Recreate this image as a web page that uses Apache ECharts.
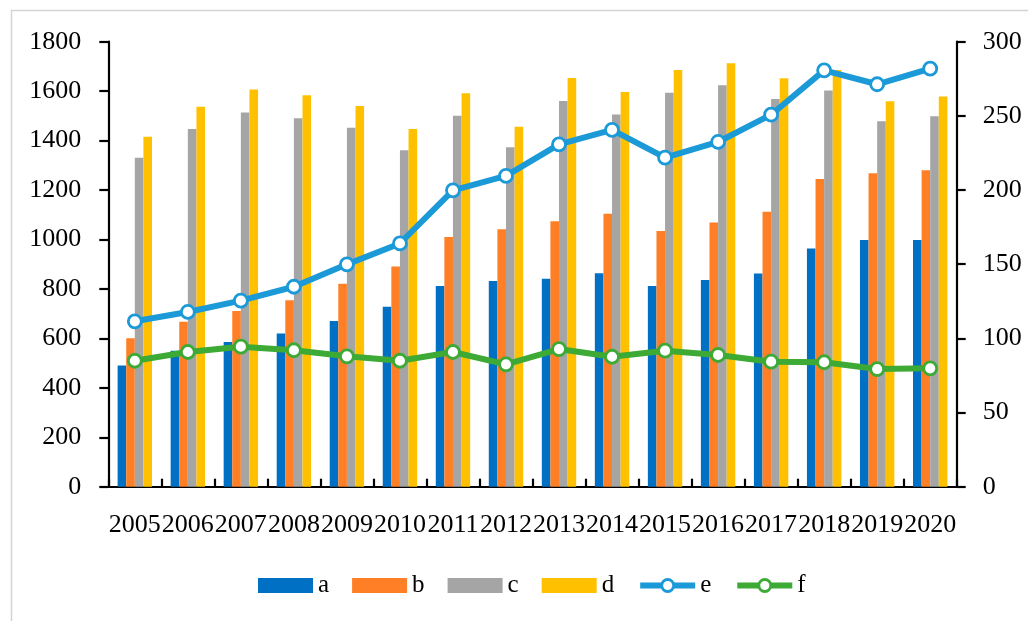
<!DOCTYPE html>
<html>
<head>
<meta charset="utf-8">
<script src="https://cdn.jsdelivr.net/npm/echarts@6/dist/echarts.min.js"></script>
<style>
  html, body { margin: 0; padding: 0; background: #fff; }
  #chart { width: 1028px; height: 621px; }
</style>
</head>
<body>
<div id="chart"></div>
<script>
// Years on the category axis
const years = ['2005','2006','2007','2008','2009','2010','2011','2012',
               '2013','2014','2015','2016','2017','2018','2019','2020'];

// Bar series (left axis)
const seriesA = [490, 550, 585, 620, 670, 728, 812, 832, 841, 863, 812, 836, 862, 964, 998, 998];
const seriesB = [600, 667, 711, 754, 821, 891, 1010, 1041, 1074, 1104, 1034, 1069, 1112, 1245, 1268, 1280];
const seriesC = [1331, 1447, 1514, 1490, 1452, 1361, 1500, 1373, 1560, 1506, 1594, 1624, 1568, 1603, 1478, 1498];
const seriesD = [1416, 1537, 1607, 1583, 1540, 1447, 1591, 1456, 1653, 1597, 1686, 1713, 1652, 1686, 1559, 1578];

// Line series (right axis)
const seriesE = [111.5, 117.8, 125.4, 134.8, 149.9, 164, 199.8, 209.5, 230.8, 240.5, 221.8, 232.4, 250.8, 280.7, 271.3, 281.8];
const seriesF = [84.9, 90.8, 94.4, 92, 87.9, 84.9, 90.8, 82.5, 92.8, 87.6, 91.7, 88.8, 84.3, 83.9, 79.3, 79.8];

// Axis tick settings
const leftAxis = { min: 0, max: 1800, interval: 200 };
const rightAxis = { min: 0, max: 300, interval: 50 };

const FONT = '"Liberation Serif", "DejaVu Serif", serif';
const AXIS_COLOR = '#000';
const COLORS = {
  a: '#0070C4', b: '#FF7F26', c: '#A5A5A5', d: '#FFC000',
  e: '#1B9AD7', f: '#3CAA34'
};
const LINE_WIDTH = 6;

const chart = echarts.init(document.getElementById('chart'), null, { renderer: 'canvas' });

function barSeries(name, data, color) {
  return {
    name, type: 'bar', data,
    yAxisIndex: 0,
    barWidth: 8.6,
    barGap: '0%',
    itemStyle: { color },
    emphasis: { disabled: true }
  };
}

function lineSeries(name, data, color) {
  return {
    name, type: 'line', data,
    yAxisIndex: 1,
    symbol: 'circle',
    symbolSize: 13,
    lineStyle: { color, width: LINE_WIDTH },
    itemStyle: { color: '#fff', borderColor: color, borderWidth: 2.8 },
    emphasis: { disabled: true },
    z: 5
  };
}

const axisLabelStyle = { color: '#000', fontFamily: FONT, fontSize: 26 };
const plainNumber = v => String(v);

chart.setOption({
  animation: false,
  backgroundColor: '#fff',
  graphic: [{
    type: 'rect',
    shape: { x: 11.5, y: 10.5, width: 1100, height: 700 },
    style: { fill: 'none', stroke: '#d4d4d4', lineWidth: 1.5 },
    silent: true
  }],
  grid: { left: 108.3, right: 71.3, top: 41.7, bottom: 134.3, containLabel: false },
  legend: {
    left: 253, top: 568,
    itemWidth: 55, itemHeight: 15, itemGap: 23,
    textStyle: { color: '#000', fontFamily: FONT, fontSize: 25 },
    data: [
      { name: 'a', icon: 'rect' },
      { name: 'b', icon: 'rect' },
      { name: 'c', icon: 'rect' },
      { name: 'd', icon: 'rect' },
      { name: 'e', lineStyle: { width: LINE_WIDTH }, itemStyle: { borderWidth: 2.8 } },
      { name: 'f', lineStyle: { width: LINE_WIDTH }, itemStyle: { borderWidth: 2.8 } }
    ]
  },
  xAxis: {
    type: 'category',
    data: years,
    boundaryGap: true,
    axisLine: { lineStyle: { color: AXIS_COLOR, width: 2.2 } },
    axisTick: { show: true, inside: true, length: 8, lineStyle: { color: AXIS_COLOR, width: 2.2 } },
    axisLabel: Object.assign({ margin: 25, interval: 0 }, axisLabelStyle),
    splitLine: { show: false }
  },
  yAxis: [
    Object.assign({
      type: 'value',
      position: 'left',
      axisLine: { show: true, lineStyle: { color: AXIS_COLOR, width: 2.2 } },
      axisTick: { show: true, length: 9, lineStyle: { color: AXIS_COLOR, width: 2.2 } },
      axisLabel: Object.assign({ margin: 27, formatter: plainNumber }, axisLabelStyle),
      splitLine: { show: false }
    }, leftAxis),
    Object.assign({
      type: 'value',
      position: 'right',
      axisLine: { show: true, lineStyle: { color: AXIS_COLOR, width: 2.2 } },
      axisTick: { show: true, length: 9, lineStyle: { color: AXIS_COLOR, width: 2.2 } },
      axisLabel: Object.assign({ margin: 26, formatter: plainNumber }, axisLabelStyle),
      splitLine: { show: false }
    }, rightAxis)
  ],
  series: [
    barSeries('a', seriesA, COLORS.a),
    barSeries('b', seriesB, COLORS.b),
    barSeries('c', seriesC, COLORS.c),
    barSeries('d', seriesD, COLORS.d),
    lineSeries('e', seriesE, COLORS.e),
    lineSeries('f', seriesF, COLORS.f)
  ]
});
</script>
</body>
</html>
